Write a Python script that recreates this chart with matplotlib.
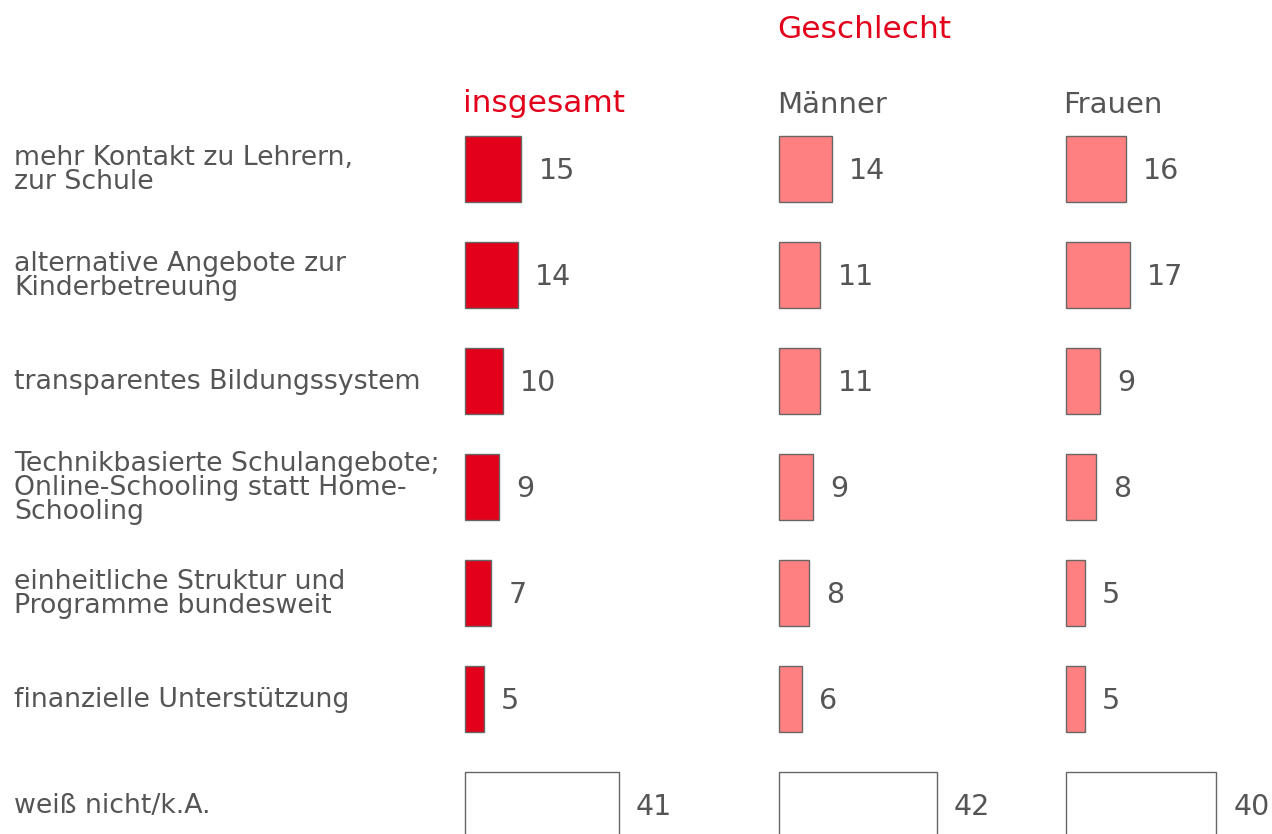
import matplotlib.pyplot as plt

plt.rcParams["font.family"] = ["DejaVu Sans"]

# Werte aus der Grafik
categories = [
    "mehr Kontakt zu Lehrern,\nzur Schule",
    "alternative Angebote zur\nKinderbetreuung",
    "transparentes Bildungssystem",
    "Technikbasierte Schulangebote;\nOnline-Schooling statt Home-\nSchooling",
    "einheitliche Struktur und\nProgramme bundesweit",
    "finanzielle Unterstützung",
    "weiß nicht/k.A.",
]
insgesamt = [15, 14, 10, 9, 7, 5, 41]
maenner = [14, 11, 11, 9, 8, 6, 42]
frauen = [16, 17, 9, 8, 5, 5, 40]
column_titles = ["insgesamt", "Männer", "Frauen"]

RED = "#E2001A"
PINK = "#FF8080"
GRAY = "#555555"
EDGE = "#666666"

W, H = 1272, 834
fig = plt.figure(figsize=(W / 100, H / 100), dpi=100)

px_per_unit = 3.75
row_h = 106
top = 116  # pixel y of row -0.5
n = len(categories)
ax_h = n * row_h
bottom_px = top + ax_h

columns = [
    (465, insgesamt, RED),
    (779, maenner, PINK),
    (1066, frauen, PINK),
]

for i, (x0, values, color) in enumerate(columns):
    width_units = 80
    ax = fig.add_axes([x0 / W, 1 - bottom_px / H, width_units * px_per_unit / W, ax_h / H])
    colors = [color] * (n - 1) + ["white"]
    ax.barh(range(n), values, height=0.62, color=colors, edgecolor=EDGE, linewidth=1)
    for y, v in enumerate(values):
        ax.annotate(str(v), (v, y), xytext=(12.5, -1.5), textcoords="offset points",
                    va="center", ha="left", fontsize=20.5, color=GRAY)
    ax.set_xlim(0, width_units)
    ax.set_ylim(n - 0.5, -0.5)
    ax.axis("off")
    for p in ax.patches:
        p.set_clip_on(False)

# Kategorien
for j, cat in enumerate(categories):
    yc = top + row_h * (j + 0.5)
    fig.text(14 / W, 1 - (yc + 1) / H, cat, ha="left", va="center", fontsize=19.3,
             color=GRAY, linespacing=0.9)

# Spaltenüberschriften
fig.text(463 / W, 1 - 103 / H, column_titles[0], ha="left", va="center", fontsize=22.5, color=RED)
fig.text(777 / W, 1 - 105 / H, column_titles[1], ha="left", va="center", fontsize=21, color=GRAY)
fig.text(1063 / W, 1 - 105 / H, column_titles[2], ha="left", va="center", fontsize=21, color=GRAY)
fig.text(777 / W, 1 - 29 / H, "Geschlecht", ha="left", va="center", fontsize=22.5, color=RED)

fig.savefig("out.png", dpi=100)
